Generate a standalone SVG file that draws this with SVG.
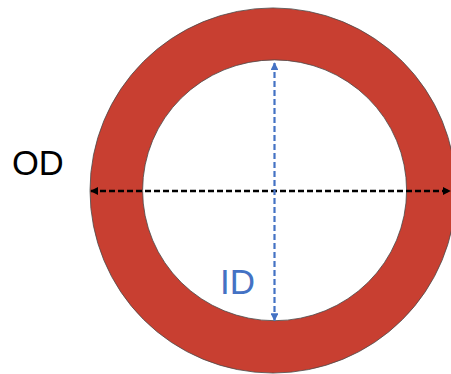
<svg xmlns="http://www.w3.org/2000/svg" width="451" height="374" viewBox="0 0 451 374">
<style>
.ring{fill:#C83F31;stroke:#4a4a4a;stroke-width:0.8;fill-rule:evenodd}
.od{stroke:#000;stroke-width:2.5;stroke-dasharray:6 3;fill:none}
.id{stroke:#4472C4;stroke-width:2.2;stroke-dasharray:6 3;fill:none}
.lbl{font-family:"Liberation Sans","Open Sans",sans-serif}
</style>
<defs>
<marker id="ab" viewBox="0 0 10 10" refX="9" refY="5" markerWidth="3.2" markerHeight="3.2" orient="auto-start-reverse"><path d="M0,0 L10,5 L0,10 z" fill="#000"/></marker>
<marker id="ai" viewBox="0 0 10 10" refX="9" refY="5" markerWidth="3.6" markerHeight="3.6" orient="auto-start-reverse"><path d="M0,0 L10,5 L0,10 z" fill="#4472C4"/></marker>
</defs>
<g id="ring">
<path class="ring" d="M90,190.5 a183,182.5 0 1,0 366,0 a183,182.5 0 1,0 -366,0 Z M142.6,190.3 a132,130.4 0 1,0 264,0 a132,130.4 0 1,0 -264,0 Z"/>
</g>
<g id="connectors">
<line class="od" x1="91" y1="191" x2="450" y2="191" marker-start="url(#ab)" marker-end="url(#ab)"/>
<line class="id" x1="274.5" y1="63" x2="274.5" y2="320.5" marker-start="url(#ai)" marker-end="url(#ai)"/>
</g>
<g id="label-od"><text class="lbl" x="12" y="175" font-size="34.5" fill="#000">OD</text></g>
<g id="label-id"><text class="lbl" x="220" y="294" font-size="35" fill="#4472C4">ID</text></g>
</svg>
